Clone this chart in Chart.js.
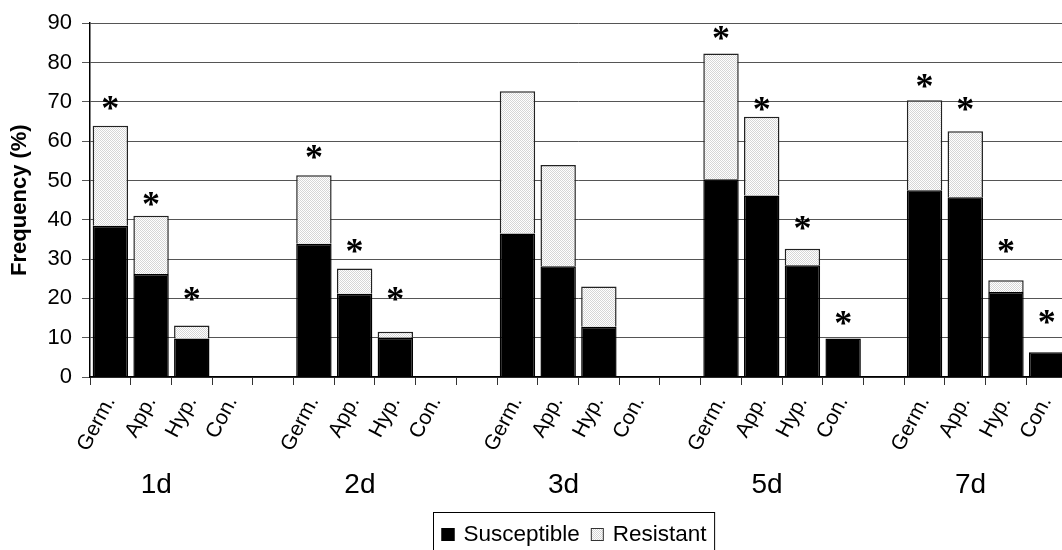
<!DOCTYPE html>
<html><head><meta charset="utf-8">
<script src="https://cdn.jsdelivr.net/npm/chart.js@4"></script>
<style>
html,body{margin:0;padding:0;background:#fff;overflow:hidden;width:1062px;height:550px;}
#wrap{position:relative;width:1062px;height:550px;overflow:hidden;}
canvas{position:absolute;left:0;top:0;}
</style></head><body>
<div id="wrap"><canvas id="c" width="1076" height="550"></canvas></div>
<script>
// ---- data ----
const groups = ['1d', '2d', '3d', '5d', '7d'];
const categories = [
  'Germ.', 'App.', 'Hyp.', 'Con.', '',
  'Germ.', 'App.', 'Hyp.', 'Con.', '',
  'Germ.', 'App.', 'Hyp.', 'Con.', '',
  'Germ.', 'App.', 'Hyp.', 'Con.', '',
  'Germ.', 'App.', 'Hyp.', 'Con.'
];
const susceptible = [
  38.5, 26.2, 9.8, 0, null,
  33.9, 21.2, 10.0, 0, null,
  36.5, 28.2, 12.8, 0, null,
  50.3, 46.2, 28.4, 9.8, null,
  47.5, 45.7, 21.6, 6.3
];
const resistant = [
  25.4, 14.8, 3.3, 0, null,
  17.4, 6.4, 1.5, 0, null,
  36.2, 25.7, 10.2, 0, null,
  32.0, 20.0, 4.2, 0, null,
  22.9, 16.8, 3.0, 0
];
// level (in %) at which the significance asterisk is shown
const asteriskLevel = [
  69.7, 45.2, 21.2, null, null,
  57.3, 33.2, 21.2, null, null,
  null, null, null, null, null,
  87.4, 69.4, 39.3, 15.0, null,
  75.4, 69.4, 33.2, 15.2
];
const yMin = 0, yMax = 90, yStep = 10;

// ---- pattern for Resistant ----
function makePattern() {
  const p = document.createElement('canvas');
  p.width = 2; p.height = 2;
  const g = p.getContext('2d');
  g.fillStyle = '#ffffff'; g.fillRect(0, 0, 2, 2);
  g.fillStyle = '#d6d6d6'; g.fillRect(0, 0, 1, 1); g.fillRect(1, 1, 1, 1);
  return g.createPattern(p, 'repeat');
}
const resistPattern = makePattern();

const SANS = '"Liberation Sans", Arial, sans-serif';

const asteriskPlugin = {
  id: 'asterisks',
  afterDatasetsDraw(chart) {
    const ctx = chart.ctx, xs = chart.scales.x, ys = chart.scales.y;
    ctx.save();
    ctx.fillStyle = '#000';
    ctx.font = 'bold 36px "Liberation Serif", serif';
    ctx.textAlign = 'center';
    ctx.textBaseline = 'alphabetic';
    const m = ctx.measureText('*');
    const mid = (m.actualBoundingBoxAscent - m.actualBoundingBoxDescent) / 2;
    asteriskLevel.forEach((v, i) => {
      if (v === null) return;
      const x = xs.getPixelForValue(i);
      const y = ys.getPixelForValue(v);
      ctx.fillText('*', x, y + mid);
    });
    ctx.restore();
  }
};

const groupLabelPlugin = {
  id: 'groupLabels',
  afterDraw(chart) {
    const ctx = chart.ctx, xs = chart.scales.x;
    const catW = xs.getPixelForValue(1) - xs.getPixelForValue(0);
    ctx.save();
    ctx.fillStyle = '#000';
    ctx.font = '28px ' + SANS;
    ctx.textAlign = 'center';
    ctx.textBaseline = 'middle';
    groups.forEach((g, k) => {
      const x = xs.getPixelForValue(5 * k + 1) + 0.13 * catW;
      ctx.fillText(g, x, chart.chartArea.bottom + 108);
    });
    ctx.restore();
  }
};

const boxLegendPlugin = {
  id: 'boxLegend',
  afterDraw(chart) {
    const ctx = chart.ctx;
    const ds = chart.data.datasets;
    ctx.save();
    ctx.font = '22.5px ' + SANS;
    ctx.textBaseline = 'middle';
    ctx.textAlign = 'left';
    const left = 433.5, top = 512.5, cy = 535;
    const sq = 13, gapSq = 9, gapItem = 11;
    let x = left + 8;
    const items = [];
    ds.forEach((d, i) => {
      items.push({x, d});
      x += sq + gapSq + ctx.measureText(d.label).width + (i < ds.length - 1 ? gapItem : 0);
    });
    const right = x + 8;
    ctx.strokeStyle = '#000';
    ctx.lineWidth = 1;
    ctx.strokeRect(left, top, right - left, 60);
    items.forEach(({x, d}) => {
      ctx.fillStyle = d.backgroundColor;
      ctx.fillRect(x, cy - 7, sq, sq);
      ctx.strokeStyle = d.label === 'Resistant' ? '#333' : '#000';
      ctx.strokeRect(x + 0.5, cy - 6.5, sq - 1, sq - 1);
      ctx.fillStyle = '#000';
      ctx.fillText(d.label, x + sq + gapSq, cy);
    });
    ctx.restore();
  }
};

new Chart(document.getElementById('c'), {
  type: 'bar',
  data: {
    labels: categories,
    datasets: [
      { label: 'Susceptible', data: susceptible, backgroundColor: '#000000',
        borderColor: '#000000', borderWidth: 1.5 },
      { label: 'Resistant', data: resistant, backgroundColor: resistPattern,
        borderColor: '#222222', borderWidth: 1.5 }
    ]
  },
  options: {
    responsive: false,
    animation: false,
    devicePixelRatio: 1,
    layout: { padding: { top: 18, right: 3, left: 0, bottom: 0 } },
    datasets: { bar: { categoryPercentage: 1.0, barPercentage: 0.87 } },
    plugins: { legend: { display: false }, tooltip: { enabled: false } },
    scales: {
      x: {
        stacked: true,
        offset: true,
        afterFit: (s) => { s.height = 173; },
        grid: { display: true, drawOnChartArea: false, drawTicks: true, tickLength: 8,
                color: '#333', offset: true },
        border: { display: true, color: '#000', width: 1.5 },
        ticks: { autoSkip: false, maxRotation: 62, minRotation: 62, padding: 7,
                 color: '#000', font: { family: SANS, size: 21 } }
      },
      y: {
        stacked: true,
        min: yMin, max: yMax,
        afterFit: (s) => { s.width = 90; },
        grid: { color: '#555', lineWidth: 1, tickLength: 8, drawTicks: true },
        border: { display: true, color: '#000', width: 1.5 },
        ticks: { stepSize: yStep, padding: 10, color: '#000',
                 font: { family: SANS, size: 22 } },
        title: { display: true, text: 'Frequency (%)', color: '#000',
                 font: { family: SANS, size: 22, weight: 'bold' },
                 padding: { top: 7, bottom: 0 } }
      }
    }
  },
  plugins: [asteriskPlugin, groupLabelPlugin, boxLegendPlugin]
});
</script>
</body></html>
